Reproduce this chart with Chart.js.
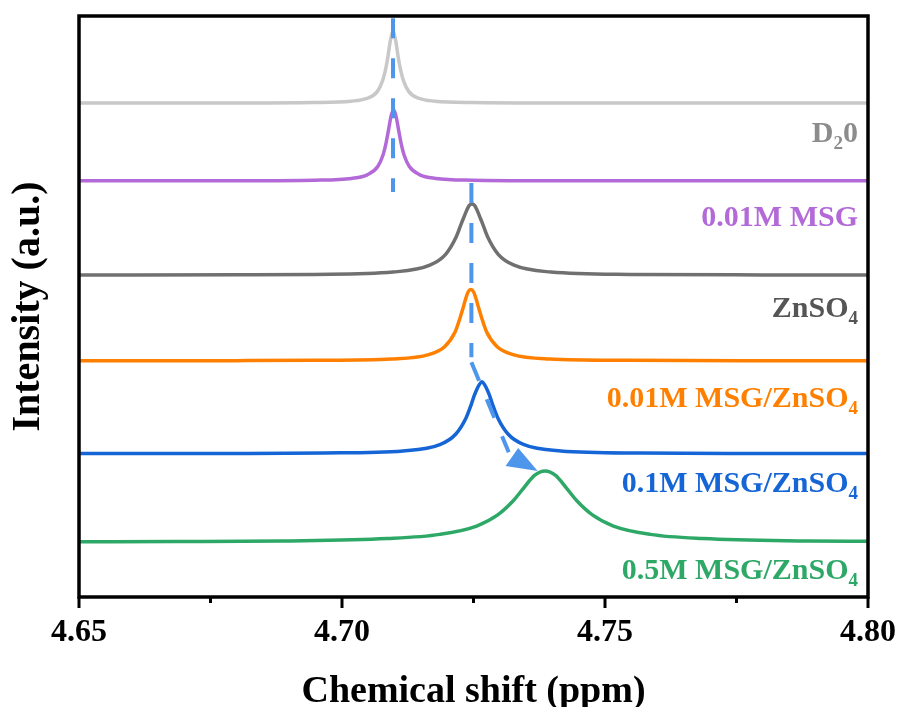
<!DOCTYPE html>
<html>
<head>
<meta charset="utf-8">
<script src="https://cdn.jsdelivr.net/npm/chart.js@4.4.1/dist/chart.umd.min.js"></script>
<style>
  html, body { margin: 0; padding: 0; background: #fff; }
</style>
</head>
<body>
<canvas id="nmr" width="899" height="707"></canvas>
<script>
// ─── DATA ─────────────────────────────────────────────────────────────────────
const seriesNames = ['D₂0', '0.01M MSG', 'ZnSO₄', '0.01M MSG/ZnSO₄', '0.1M MSG/ZnSO₄', '0.5M MSG/ZnSO₄'];
// vertical offset of each stacked trace (a.u.)
const baselines = [6.86, 5.78, 4.47, 3.28, 1.99, 0.76];

const shiftD2O = [4.650, 4.6797, 4.6947, 4.7017, 4.7047, 4.7067, 4.7077, 4.7082, 4.7087, 4.7092, 4.7097,
                  4.7102, 4.7107, 4.7112, 4.7117, 4.7127, 4.7147, 4.7177, 4.7247, 4.7397, 4.7700, 4.800];
const intD2O   = [0.001, 0.002, 0.008, 0.027, 0.065, 0.16, 0.31, 0.44, 0.63, 0.87, 0.99,
                  0.87, 0.63, 0.44, 0.31, 0.16, 0.065, 0.027, 0.008, 0.002, 0.001, 0.0005];

const shiftMSG = [4.650, 4.6798, 4.6948, 4.7018, 4.7048, 4.7068, 4.7078, 4.7083, 4.7088, 4.7093, 4.7098,
                  4.7103, 4.7108, 4.7113, 4.7118, 4.7128, 4.7148, 4.7178, 4.7248, 4.7398, 4.7700, 4.800];
const intMSG   = [0.001, 0.0025, 0.010, 0.034, 0.084, 0.20, 0.36, 0.50, 0.69, 0.89, 0.99,
                  0.89, 0.69, 0.50, 0.36, 0.20, 0.084, 0.034, 0.010, 0.0025, 0.001, 0.0005];

const shiftZn  = [4.650, 4.680, 4.6947, 4.7097, 4.7167, 4.7197, 4.7217, 4.7227, 4.7232, 4.7237, 4.7242, 4.7247,
                  4.7252, 4.7257, 4.7262, 4.7267, 4.7277, 4.7297, 4.7327, 4.7397, 4.7547, 4.780, 4.800];
const intZn    = [0.002, 0.005, 0.011, 0.044, 0.139, 0.29, 0.53, 0.72, 0.81, 0.90, 0.97, 0.99,
                  0.97, 0.90, 0.81, 0.72, 0.53, 0.29, 0.139, 0.044, 0.011, 0.004, 0.002];

const shiftLow = [4.650, 4.680, 4.6945, 4.7095, 4.7165, 4.7195, 4.7215, 4.7225, 4.7230, 4.7235, 4.7240, 4.7245,
                  4.7250, 4.7255, 4.7260, 4.7265, 4.7275, 4.7295, 4.7325, 4.7395, 4.7545, 4.780, 4.800];
const intLow   = [0.001, 0.003, 0.007, 0.026, 0.087, 0.196, 0.40, 0.61, 0.73, 0.86, 0.96, 0.99,
                  0.96, 0.86, 0.73, 0.61, 0.40, 0.196, 0.087, 0.026, 0.007, 0.002, 0.001];

const shiftMid = [4.650, 4.680, 4.6966, 4.7116, 4.7186, 4.7216, 4.7236, 4.7246, 4.7251, 4.7256, 4.7261, 4.7266,
                  4.7271, 4.7276, 4.7281, 4.7286, 4.7296, 4.7316, 4.7346, 4.7416, 4.7566, 4.780, 4.800];
const intMid   = [0.002, 0.004, 0.010, 0.039, 0.125, 0.27, 0.50, 0.69, 0.80, 0.89, 0.96, 1.0,
                  0.96, 0.89, 0.80, 0.69, 0.50, 0.27, 0.125, 0.039, 0.010, 0.004, 0.002];

const shiftHigh = [4.650, 4.6686, 4.6886, 4.7086, 4.7186, 4.7256, 4.7296, 4.7326, 4.7346, 4.7366, 4.7386,
                   4.7406, 4.7426, 4.7446, 4.7476, 4.7516, 4.7586, 4.7686, 4.7886, 4.800];
const intHigh   = [0.006, 0.010, 0.019, 0.052, 0.110, 0.226, 0.38, 0.58, 0.76, 0.93, 0.99,
                   0.93, 0.76, 0.58, 0.38, 0.226, 0.110, 0.052, 0.019, 0.013];

const shifts = [shiftD2O, shiftMSG, shiftZn, shiftLow, shiftMid, shiftHigh];
const intensities = [intD2O, intMSG, intZn, intLow, intMid, intHigh];

const majorTicks = [4.65, 4.70, 4.75, 4.80];
const minorTicks = [4.675, 4.725, 4.775];

// dashed guide lines and arrow head, [ppm, a.u.]
const guideD2O  = [[4.7097, 8.04], [4.7097, 5.625]];
const guideZn   = [[4.7246, 5.75], [4.7246, 3.33]];
const guideDiag = [[4.7246, 3.26], [4.7317, 2.01]];
const arrowHead = [[4.7311, 1.82], [4.7335, 2.07], [4.7372, 1.75]];

// ─── STYLE ────────────────────────────────────────────────────────────────────
const lineColors  = ['#c8c8c8', '#b36ad8', '#707070', '#ff8000', '#1565d6', '#2ea866'];
const labelColors = ['#8c8c8c', '#b36ad8', '#555555', '#ff8000', '#1565d6', '#2ea866'];
const labelDrop = [39, 45, 42, 46, 38, 37];   // px from trace baseline to label baseline
const guideColor = '#4e96ec';
const serif = '"Liberation Serif", "Times New Roman", serif';

const toPts = (xs, ys, off = 0) => xs.map((x, i) => ({ x, y: ys[i] + off }));

function splitSub(name) {
    const parts = [];
    for (const ch of name) {
        const code = ch.charCodeAt(0);
        const sub = code >= 0x2080 && code <= 0x2089;
        const c = sub ? String(code - 0x2080) : ch;
        const last = parts[parts.length - 1];
        if (last && last.sub === sub) last.text += c;
        else parts.push({ text: c, sub });
    }
    return parts;
}

// ─── DECORATION PLUGIN ────────────────────────────────────────────────────────
const decor = {
    id: 'decor',
    afterDatasetsDraw(chart) {
        const { ctx, chartArea: a, scales: { x, y } } = chart;
        ctx.save();

        // arrow head
        ctx.fillStyle = guideColor;
        ctx.beginPath();
        arrowHead.forEach(([px, py], i) => {
            const X = x.getPixelForValue(px), Y = y.getPixelForValue(py);
            i ? ctx.lineTo(X, Y) : ctx.moveTo(X, Y);
        });
        ctx.closePath();
        ctx.fill();

        // frame
        ctx.strokeStyle = '#000';
        ctx.lineWidth = 3.5;
        ctx.strokeRect(a.left, a.top, a.right - a.left, a.bottom - a.top);

        // ticks
        ctx.lineWidth = 3;
        ctx.beginPath();
        majorTicks.forEach(v => {
            const px = x.getPixelForValue(v);
            ctx.moveTo(px, a.bottom); ctx.lineTo(px, a.bottom + 11);
        });
        minorTicks.forEach(v => {
            const px = x.getPixelForValue(v);
            ctx.moveTo(px, a.bottom); ctx.lineTo(px, a.bottom + 6);
        });
        ctx.stroke();

        // trace labels, right aligned, with subscripts
        const mainFont = 'bold 30px ' + serif;
        const subFont = 'bold 19px ' + serif;
        ctx.textBaseline = 'alphabetic';
        ctx.textAlign = 'left';
        seriesNames.forEach((name, i) => {
            const parts = splitSub(name);
            let w = 0;
            parts.forEach(p => { ctx.font = p.sub ? subFont : mainFont; p.w = ctx.measureText(p.text).width; w += p.w; });
            let cx = a.right - 10 - w;
            const by = y.getPixelForValue(baselines[i]) + labelDrop[i];
            ctx.fillStyle = labelColors[i];
            parts.forEach(p => {
                ctx.font = p.sub ? subFont : mainFont;
                ctx.fillText(p.text, cx, p.sub ? by + 7 : by);
                cx += p.w;
            });
        });
        ctx.restore();
    }
};

// ─── CHART ────────────────────────────────────────────────────────────────────
const traceSets = seriesNames.map((name, i) => ({
    label: name,
    data: toPts(shifts[i], intensities[i], baselines[i]),
    borderColor: lineColors[i],
    borderWidth: 3.5,
    pointRadius: 0,
    cubicInterpolationMode: 'monotone',
    fill: false,
    order: 1
}));

const guideSets = [guideD2O, guideZn, guideDiag].map(g => ({
    label: 'guide',
    data: g.map(([x, y]) => ({ x, y })),
    borderColor: guideColor,
    borderWidth: 4,
    borderDash: [20, 20],
    pointRadius: 0,
    tension: 0,
    fill: false,
    order: 0
}));

new Chart(document.getElementById('nmr'), {
    type: 'line',
    data: { datasets: [...traceSets, ...guideSets] },
    options: {
        responsive: false,
        animation: false,
        layout: { padding: { top: 16, right: 31, left: 0, bottom: 0 } },
        plugins: { legend: { display: false }, tooltip: { enabled: false } },
        scales: {
            x: {
                type: 'linear',
                min: 4.65,
                max: 4.80,
                afterBuildTicks: s => { s.ticks = majorTicks.map(value => ({ value })); },
                afterFit: s => { s.height = 110; s.paddingLeft = 0; s.paddingRight = 0; },
                grid: { display: false, drawTicks: false },
                border: { display: false },
                ticks: {
                    callback: v => v.toFixed(2),
                    font: { family: serif, size: 32, weight: 'bold' },
                    color: '#000',
                    padding: 17,
                    maxRotation: 0,
                    autoSkip: false
                },
                title: {
                    display: true,
                    text: 'Chemical shift (ppm)',
                    font: { family: serif, size: 38, weight: 'bold', lineHeight: 0.8 },
                    color: '#000',
                    padding: { top: 0, bottom: 0 }
                }
            },
            y: {
                min: 0,
                max: 8.07,
                afterFit: s => { s.width = 79; },
                grid: { display: false, drawTicks: false },
                border: { display: false },
                ticks: { display: false },
                title: {
                    display: true,
                    text: 'Intensity (a.u.)',
                    font: { family: serif, size: 40, weight: 'bold' },
                    color: '#000',
                    padding: { top: 5, bottom: 0 }
                }
            }
        }
    },
    plugins: [decor]
});
</script>
</body>
</html>
